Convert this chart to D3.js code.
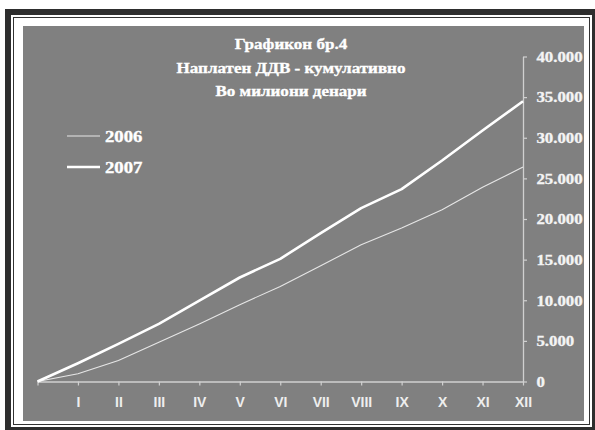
<!DOCTYPE html>
<html lang="mk">
<head>
<meta charset="UTF-8">
<title>Графикон бр.4</title>
<script src="https://d3js.org/d3.v7.min.js"></script>
<style>
  body { margin: 0; background: #fff; }
  svg { display: block; }
</style>
</head>
<body>
<div id="chart"></div>
<script>
// data (millions of denars, cumulative)
const months = ["", "I", "II", "III", "IV", "V", "VI", "VII", "VIII", "IX", "X", "XI", "XII"];
const vat2006 = [0, 950, 2580, 4830, 7090, 9460, 11700, 14250, 16830, 18880, 21130, 23900, 26400];
const vat2007 = [0, 2250, 4630, 7090, 9950, 12800, 15100, 18270, 21340, 23670, 27200, 30900, 34500];
const yTicks = [0, 5000, 10000, 15000, 20000, 25000, 30000, 35000, 40000];
const titleLines = ["Графикон бр.4", "Наплатен ДДВ - кумулативно", "Во милиони денари"];

const W = 595, H = 430;
const svg = d3.select("#chart").append("svg")
  .attr("width", W).attr("height", H);

// frame
svg.append("rect").attr("x", 5).attr("y", 9).attr("width", W).attr("height", H)
  .attr("fill", "#2e2e2e");
svg.append("rect").attr("x", 11).attr("y", 15).attr("width", 581).attr("height", 412)
  .attr("fill", "#fff");
svg.append("rect").attr("x", 13.5).attr("y", 17.5).attr("width", 576).attr("height", 407)
  .attr("fill", "none").attr("stroke", "#333").attr("stroke-width", 1);
svg.append("rect").attr("x", 23).attr("y", 26).attr("width", 561).attr("height", 395)
  .attr("fill", "#808080");

const x = d3.scalePoint().domain(months).range([37.5, 523]);
const y = d3.scaleLinear().domain([0, 40000]).range([381.5, 56.5]);

const serif = "'Liberation Serif', 'Times New Roman', serif";

// title
svg.append("g").selectAll("text")
  .data(titleLines)
  .join("text")
  .attr("transform", (d, i) => `translate(291,${49 + i * 23.5}) scale(1.1,1)`)
  .attr("text-anchor", "middle")
  .attr("fill", "#fff")
  .attr("stroke", "#fff").attr("stroke-width", 0.35)
  .style("font-family", serif)
  .style("font-weight", "bold")
  .style("font-size", "15.5px")
  .text(d => d);

// axes
const xAxis = svg.append("g")
  .attr("transform", `translate(0,${y(0)})`)
  .call(d3.axisBottom(x).tickSize(4).tickSizeOuter(0).tickPadding(12));
xAxis.select(".domain").attr("stroke", "#d0d0d0").attr("stroke-width", 1.3);
xAxis.selectAll(".tick line").attr("stroke", "#d0d0d0").attr("stroke-width", 1.2);
xAxis.selectAll(".tick text")
  .attr("fill", "#eee")
  .style("font-family", "'Liberation Sans', Arial, sans-serif")
  .style("font-weight", "bold")
  .style("font-size", "14px");

const yAxis = svg.append("g")
  .attr("transform", `translate(${x("XII")},0)`)
  .call(d3.axisRight(y).tickValues(yTicks).tickSize(4).tickSizeOuter(0).tickPadding(8)
    .tickFormat(d => d3.format(",")(d).replace(/,/g, ".")));
yAxis.select(".domain").attr("stroke", "#d0d0d0").attr("stroke-width", 1.3);
yAxis.selectAll(".tick line").attr("stroke", "#d0d0d0").attr("stroke-width", 1.2);
yAxis.selectAll(".tick text")
  .attr("fill", "#f4f4f4")
  .attr("stroke", "#f4f4f4").attr("stroke-width", 0.35)
  .attr("transform", "scale(1.12,1)")
  .style("font-family", serif)
  .style("font-weight", "bold")
  .style("font-size", "15px");

// lines
const line = d3.line().x((d, i) => x(months[i])).y(d => y(d));
const series = [
  { name: "2006", values: vat2006, color: "#e6e6e6", width: 1.1 },
  { name: "2007", values: vat2007, color: "#ffffff", width: 2.6 }
];
svg.append("g").selectAll("path")
  .data(series)
  .join("path")
  .attr("d", d => line(d.values))
  .attr("fill", "none")
  .attr("stroke", d => d.color)
  .attr("stroke-width", d => d.width)
  .attr("stroke-linejoin", "round");

// legend
const legend = svg.append("g").selectAll("g")
  .data(series)
  .join("g")
  .attr("transform", (d, i) => `translate(67,${136 + i * 31})`);
legend.append("line")
  .attr("x1", 0).attr("x2", 33)
  .attr("stroke", d => d.color)
  .attr("stroke-width", d => d.width);
legend.append("text")
  .attr("transform", "translate(38,6) scale(1.1,1)")
  .attr("fill", "#fff")
  .attr("stroke", "#fff").attr("stroke-width", 0.35)
  .style("font-family", serif)
  .style("font-weight", "bold")
  .style("font-size", "17px")
  .text(d => d.name);
</script>
</body>
</html>
